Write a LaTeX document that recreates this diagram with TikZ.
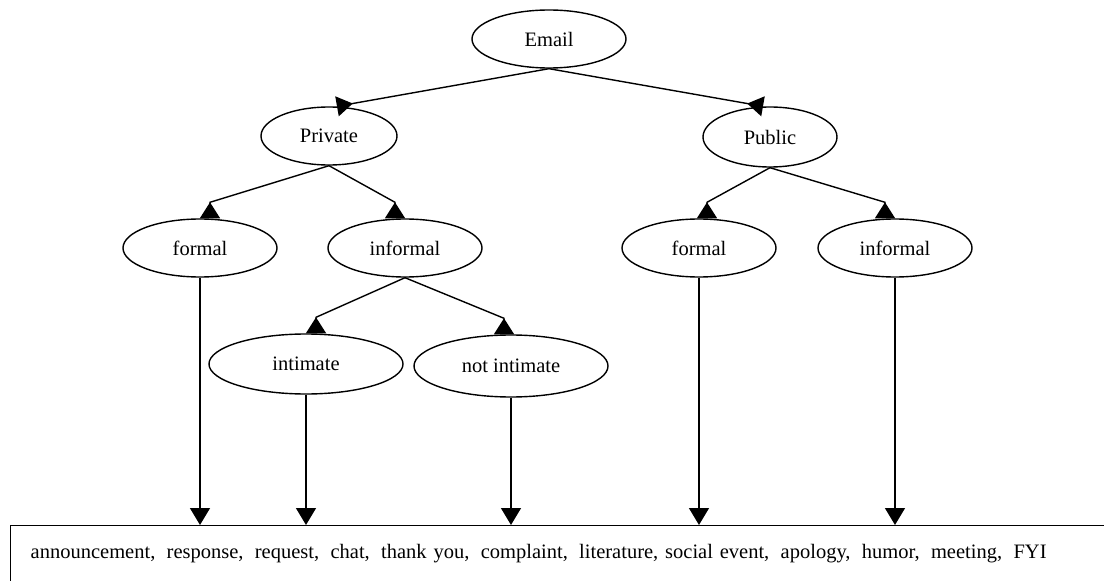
\documentclass[tikz,border=0pt]{standalone}
\usepackage{fontspec}
\setmainfont{Liberation Serif}
\usetikzlibrary{shapes.geometric,arrows.meta}

\begin{document}
\begin{tikzpicture}[x=1bp, y=-1bp,
		every node/.style={font=\fontsize{20.5bp}{24bp}\selectfont},
		kind/.style={ellipse, draw, line width=1.4bp, inner sep=0pt, minimum width=154bp, minimum height=58bp},
		branch/.style={line width=1.4bp, -{Triangle[reversed, length=16bp, width=20bp]}},
		feed/.style={line width=1.4bp, -{Triangle[length=17bp, width=20bp]}}]
			\useasboundingbox (0,0) rectangle (1104,581);
			\clip (0,0) rectangle (1104,581);
			
			\node[kind] (email) at (549,39) {Email};
			\node[kind, minimum width=136bp] (private) at (329,136) {Private};
			\node[kind, minimum width=134bp, minimum height=60bp] (public) at (770,137) {Public};
			\draw[branch] (email.south) -- ([xshift=8bp]private.north);
			\draw[branch] (email.south) -- ([xshift=-7bp]public.north);
			
			\node[kind] (formalA) at (200,248) {formal};
			\node[kind] (informalA) at (405,248) {informal};
			\draw[branch] (private.south) -- ([xshift=10bp,yshift=16bp]formalA.north) -- ([xshift=10bp]formalA.north);
			\draw[branch] (private.south) -- ([xshift=-10bp,yshift=16bp]informalA.north) -- ([xshift=-10bp]informalA.north);
			
			\node[kind] (formalB) at (699,248) {formal};
			\node[kind] (informalB) at (895,248) {informal};
			\draw[branch] (public.south) -- ([xshift=8bp,yshift=16bp]formalB.north) -- ([xshift=8bp]formalB.north);
			\draw[branch] (public.south) -- ([xshift=-10bp,yshift=16bp]informalB.north) -- ([xshift=-10bp]informalB.north);
			
			\node[kind, minimum width=194bp, minimum height=60bp] (intimate) at (306,364) {intimate};
			\node[kind, minimum width=194bp, minimum height=62bp] (notintimate) at (511,366) {not intimate};
			\draw[branch] (informalA.south) -- ([xshift=10bp,yshift=16bp]intimate.north) -- ([xshift=10bp]intimate.north);
			\draw[branch] (informalA.south) -- ([xshift=-7bp,yshift=16bp]notintimate.north) -- ([xshift=-7bp]notintimate.north);
			
			\node[draw, line width=1.4bp, anchor=north west, text width=1150bp, align=left, inner xsep=20bp, inner ysep=19bp, text height=14bp, text depth=60bp] (types) at (10,525)
				{announcement,\ \hspace{4.5bp}response,\ \hspace{4.5bp}request,\ \hspace{4.5bp}chat,\ \hspace{4.5bp}thank you,\ \hspace{4.5bp}complaint,\ \hspace{4.5bp}literature, social event,\ \hspace{4.5bp}apology,\ \hspace{4.5bp}humor,\ \hspace{4.5bp}meeting,\ \hspace{4.5bp}FYI};
			\draw[feed] (formalA.south) -- (formalA.south |- types.north);
			\draw[feed] (intimate.south) -- (intimate.south |- types.north);
			\draw[feed] (notintimate.south) -- (notintimate.south |- types.north);
			\draw[feed] (formalB.south) -- (formalB.south |- types.north);
			\draw[feed] (informalB.south) -- (informalB.south |- types.north);
		\end{tikzpicture}
\end{document}
